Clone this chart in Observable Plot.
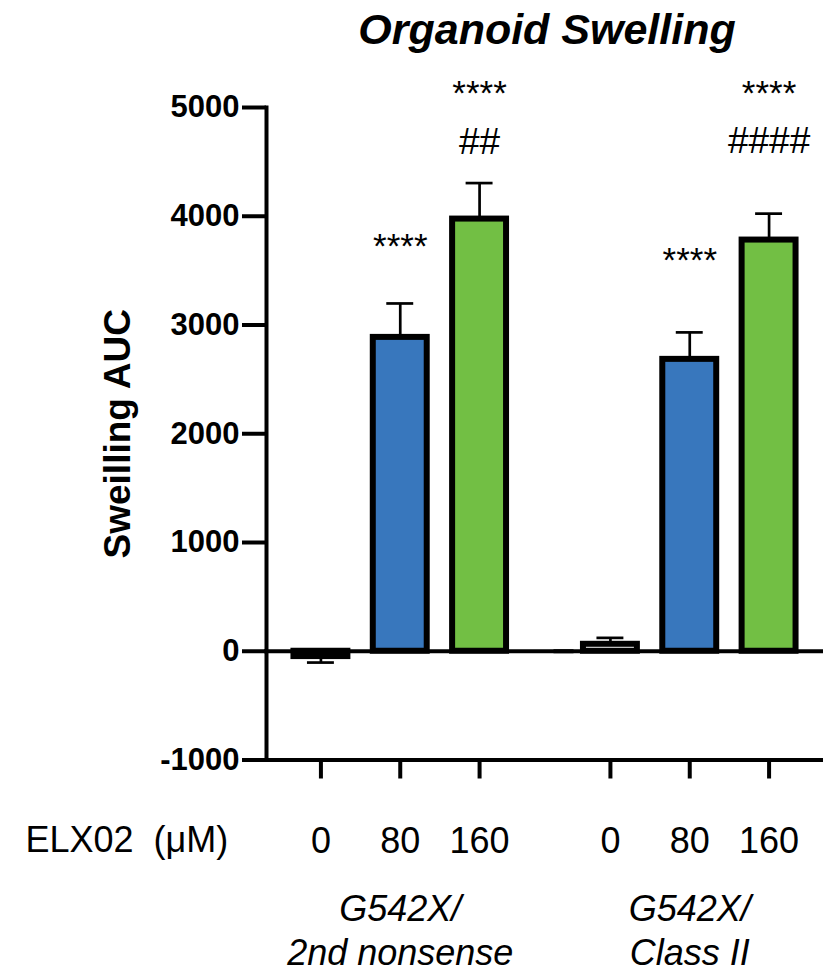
<!DOCTYPE html>
<html><head><meta charset="utf-8">
<script src="https://cdn.jsdelivr.net/npm/d3@7"></script>
<script src="https://cdn.jsdelivr.net/npm/@observablehq/plot@0.6"></script>
<style>
html,body{margin:0;padding:0;background:#fff;}
#wrap{position:relative;width:823px;height:972px;overflow:hidden;font-family:"Liberation Sans",Arial,Helvetica,sans-serif;}
#title{position:absolute;left:247px;width:600px;top:6px;text-align:center;font-size:43px;line-height:46px;font-weight:bold;font-style:italic;color:#000;}
#chart{position:absolute;left:0;top:0;}
</style></head><body>
<div id="wrap"><div id="chart"></div><div id="title"></div></div>
<script>
const title = "Organoid Swelling";
const yLabel = "Sweilling AUC";
const xLabel = "ELX02\u00a0 (\u03bcM)";
const groups = ["G542X/\n2nd nonsense", "G542X/\nClass II"];
const doses = ["0", "80", "160"];
const meansG1 = [-49, 2886, 3974];
const errsG1 = [55, 312, 331];
const meansG2 = [64, 2684, 3781];
const errsG2 = [59, 248, 243];
const yTicks = [-1000, 0, 1000, 2000, 3000, 4000, 5000];
const doseColors = ["#ffffff", "#3877bd", "#72bf44"];
// significance annotations: label, group index, dose, height (AUC units)
const sigLabels = ["****", "****", "##", "****", "****", "####"];
const sigGroup = [0, 0, 0, 1, 1, 1];
const sigDose = ["80", "160", "160", "80", "160", "160"];
const sigY = [3790, 5200, 4690, 3660, 5200, 4699];

document.getElementById("title").textContent = title;

const means = [meansG1, meansG2];
const errs = [errsG1, errsG2];
const rows = groups.flatMap((g, gi) => doses.map((d, di) => {
  const m = means[gi][di], e = errs[gi][di];
  return {group: g, dose: d, mean: m, end: m >= 0 ? m + e : m - e};
}));
const sig = sigLabels.map((s, i) => ({group: groups[sigGroup[i]], dose: sigDose[i], label: s, y: sigY[i]}));
const stars = sig.filter(d => d.label.startsWith("*"));
const hashes = sig.filter(d => d.label.startsWith("#"));

const chart = Plot.plot({
  width: 823, height: 972,
  marginTop: 107, marginBottom: 212.5, marginLeft: 266, marginRight: 0,
  style: {fontFamily: '"Liberation Sans", Arial, Helvetica, sans-serif', fontSize: "36px", background: "white", color: "black", overflow: "visible"},
  fx: {domain: groups, paddingInner: 0.076, paddingOuter: 0, axis: null, label: null, round: false},
  x: {domain: doses, paddingInner: 0.32, paddingOuter: 0.346, label: null, round: false},
  y: {domain: [-1000, 5000], label: null},
  color: {domain: doses, range: doseColors},
  marks: [
    Plot.barY(rows, {fx: "group", x: "dose", y: "mean", fill: "dose", stroke: "black", strokeWidth: 6}),
    Plot.ruleY([0, -1000], {stroke: "black", strokeWidth: 4, insetLeft: -2, insetRight: -40}),
    Plot.frame({anchor: "left", facetAnchor: "left", stroke: "black", strokeWidth: 4}),
    Plot.ruleX(rows, {fx: "group", x: "dose", y1: "mean", y2: "end", stroke: "black", strokeWidth: 2.7}),
    Plot.tickY(rows, {fx: "group", x: "dose", y: "end", stroke: "black", strokeWidth: 2.7, insetLeft: 13.5, insetRight: 13.5}),
    Plot.axisY({ticks: yTicks, tickSize: 24, tickPadding: 3, tickFormat: d => String(d), fontSize: 31, fontWeight: "bold", strokeWidth: 4, label: null}),
    Plot.axisX({tickSize: 19, tickPadding: 48, fontSize: 36, strokeWidth: 4, label: null}),
    Plot.text(stars, {fx: "group", x: "dose", y: "y", text: "label", fontSize: 35, dy: 8}),
    Plot.text(hashes, {fx: "group", x: "dose", y: "y", text: "label", fontSize: 37, dy: 1}),
    Plot.text(groups, {fx: d => d, text: d => d, frameAnchor: "bottom", textAnchor: "middle", lineAnchor: "top", dy: 130, fontSize: 36, fontStyle: "italic", lineHeight: 1.22}),
    Plot.text([{group: groups[0], label: xLabel}], {fx: "group", text: "label", frameAnchor: "bottom-left", textAnchor: "start", lineAnchor: "top", dx: -241, dy: 66, fontSize: 36}),
    Plot.text([{group: groups[0], label: yLabel}], {fx: "group", text: "label", frameAnchor: "left", textAnchor: "middle", rotate: -90, dx: -148, fontSize: 37, fontWeight: "bold"})
  ]
});
document.getElementById("chart").appendChild(chart);
</script>
</body></html>
